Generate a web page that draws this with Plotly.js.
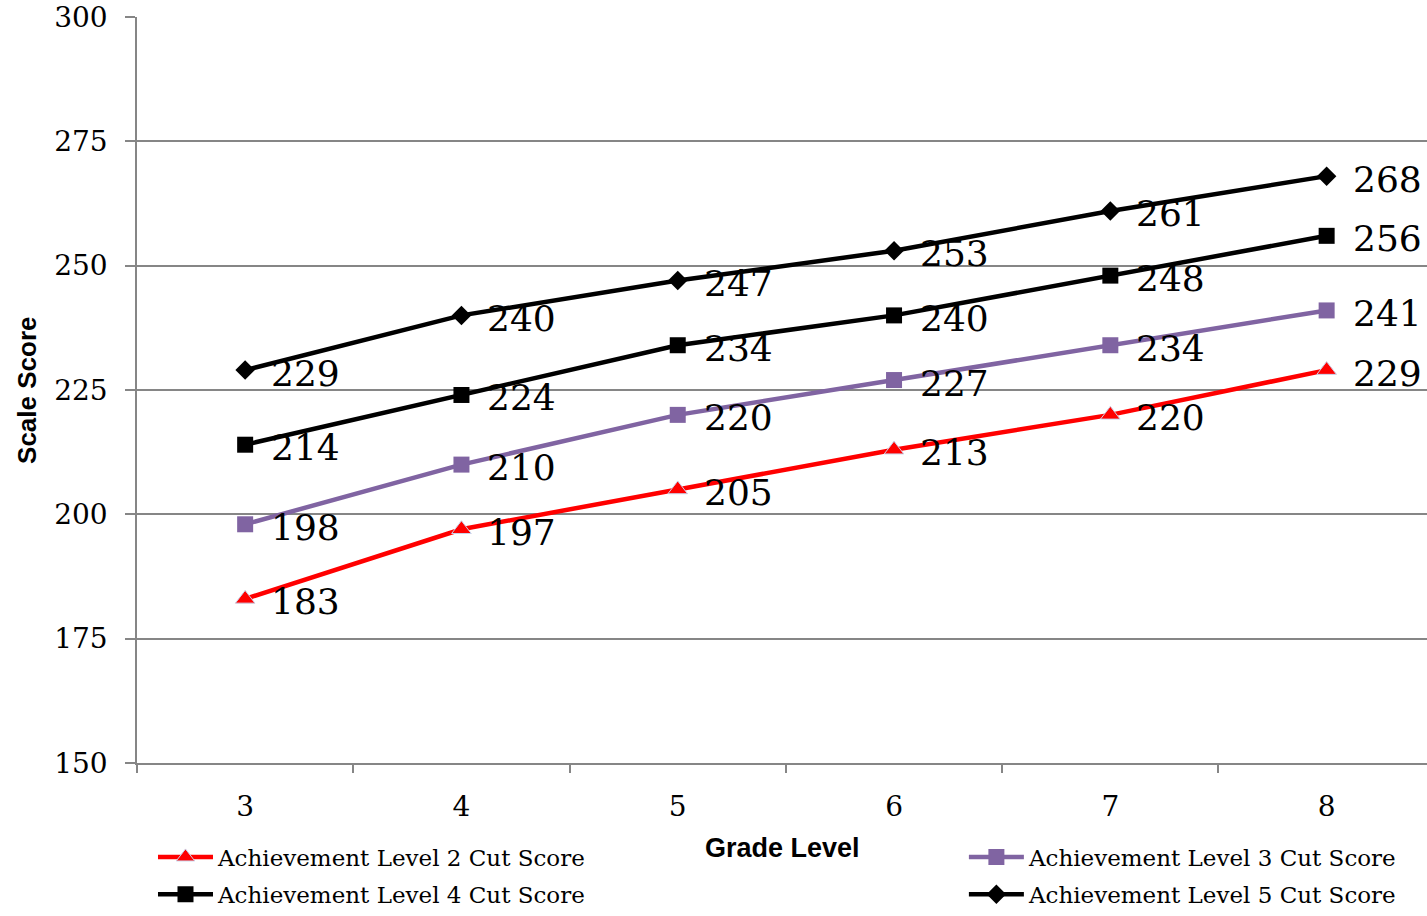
<!DOCTYPE html>
<html>
<head>
<meta charset="utf-8">
<script src="https://cdn.plot.ly/plotly-3.0.1.min.js"></script>
<style>html,body{margin:0;padding:0;background:#fff;}#chart{width:1427px;height:916px;}</style>
</head>
<body>
<div id="chart"></div>
<script>
const grades = ['3', '4', '5', '6', '7', '8'];
const level2 = [183, 197, 205, 213, 220, 229];
const level3 = [198, 210, 220, 227, 234, 241];
const level4 = [214, 224, 234, 240, 248, 256];
const level5 = [229, 240, 247, 253, 261, 268];
const seriesNames = ['Achievement Level 2 Cut Score', 'Achievement Level 3 Cut Score', 'Achievement Level 4 Cut Score', 'Achievement Level 5 Cut Score'];
const yTicks = [150, 175, 200, 225, 250, 275, 300];

const serif = 'DejaVu Serif, Liberation Serif, serif';
const sans = 'Liberation Sans, Arial, sans-serif';
const gridCol = '#868686';

const series = [
  {y: level2, name: seriesNames[0], color: '#FF0000', symbol: 'triangle-up', size: 17, lineColor: '#C9D3EA', lw: 1, legend: 'legend'},
  {y: level3, name: seriesNames[1], color: '#8064A2', symbol: 'square', size: 16, lineColor: '#8064A2', lw: 0, legend: 'legend2'},
  {y: level4, name: seriesNames[2], color: '#000000', symbol: 'square', size: 16, lineColor: '#000000', lw: 0, legend: 'legend3'},
  {y: level5, name: seriesNames[3], color: '#000000', symbol: 'diamond', size: 15, lineColor: '#000000', lw: 0, legend: 'legend4'}
];

const traces = series.map(s => ({
  x: grades, y: s.y, name: s.name, type: 'scatter', mode: 'lines+markers',
  line: {color: s.color, width: 4.5},
  marker: {symbol: s.symbol, size: s.size, color: s.color, line: {color: s.lineColor, width: s.lw}},
  legend: s.legend, hoverinfo: 'x+y'
}));

const annotations = [];
series.forEach(s => {
  s.y.forEach((v, i) => {
    annotations.push({
      x: i, y: v, xref: 'x', yref: 'y', text: String(v), showarrow: false,
      xanchor: 'left', yanchor: 'middle', xshift: 24, yshift: -3,
      font: {family: serif, size: 36, color: '#000'}
    });
  });
});
annotations.push({
  text: '<b>Grade Level</b>', xref: 'paper', yref: 'paper', x: 0.5, y: -0.114,
  xanchor: 'center', yanchor: 'middle', showarrow: false,
  font: {family: sans, size: 27, color: '#000'}
});
annotations.push({
  text: '<b>Scale Score</b>', xref: 'paper', yref: 'paper', x: -0.0853, y: 0.5,
  xanchor: 'center', yanchor: 'middle', textangle: -90, showarrow: false,
  font: {family: sans, size: 26, color: '#000'}
});

const legendBase = {
  orientation: 'v', bgcolor: 'rgba(0,0,0,0)', borderwidth: 0,
  font: {family: serif, size: 23, color: '#000'}, itemwidth: 55,
  xanchor: 'left', yanchor: 'middle', xref: 'paper', yref: 'paper'
};

const layout = {
  width: 1427, height: 916,
  margin: {l: 137, r: 0, t: 17, b: 153},
  paper_bgcolor: '#fff', plot_bgcolor: '#fff',
  showlegend: true,
  legend: Object.assign({}, legendBase, {x: 0.0124, y: -0.126}),
  legend2: Object.assign({}, legendBase, {x: 0.641, y: -0.126}),
  legend3: Object.assign({}, legendBase, {x: 0.0124, y: -0.176}),
  legend4: Object.assign({}, legendBase, {x: 0.641, y: -0.176}),
  xaxis: {
    type: 'category', range: [-0.5, 5.464], tickson: 'boundaries',
    ticks: 'outside', ticklen: 8, tickwidth: 1.5, tickcolor: gridCol,
    showline: true, linecolor: gridCol, linewidth: 1.5, showgrid: false,
    tickfont: {family: serif, size: 28, color: '#000'}, ticklabelstandoff: 18,
    fixedrange: true, automargin: false
  },
  yaxis: {
    range: [150, 300], tickvals: yTicks, ticktext: yTicks.map(String),
    ticks: 'outside', ticklen: 10, tickwidth: 1.5, tickcolor: gridCol,
    showline: true, linecolor: gridCol, linewidth: 1.5,
    showgrid: true, gridcolor: gridCol, gridwidth: 1.5, zeroline: false,
    tickfont: {family: serif, size: 28, color: '#000'}, ticklabelstandoff: 12,
    fixedrange: true, automargin: false
  },
  annotations: annotations
};

Plotly.newPlot('chart', traces, layout, {displayModeBar: false, responsive: false});
</script>
</body>
</html>
